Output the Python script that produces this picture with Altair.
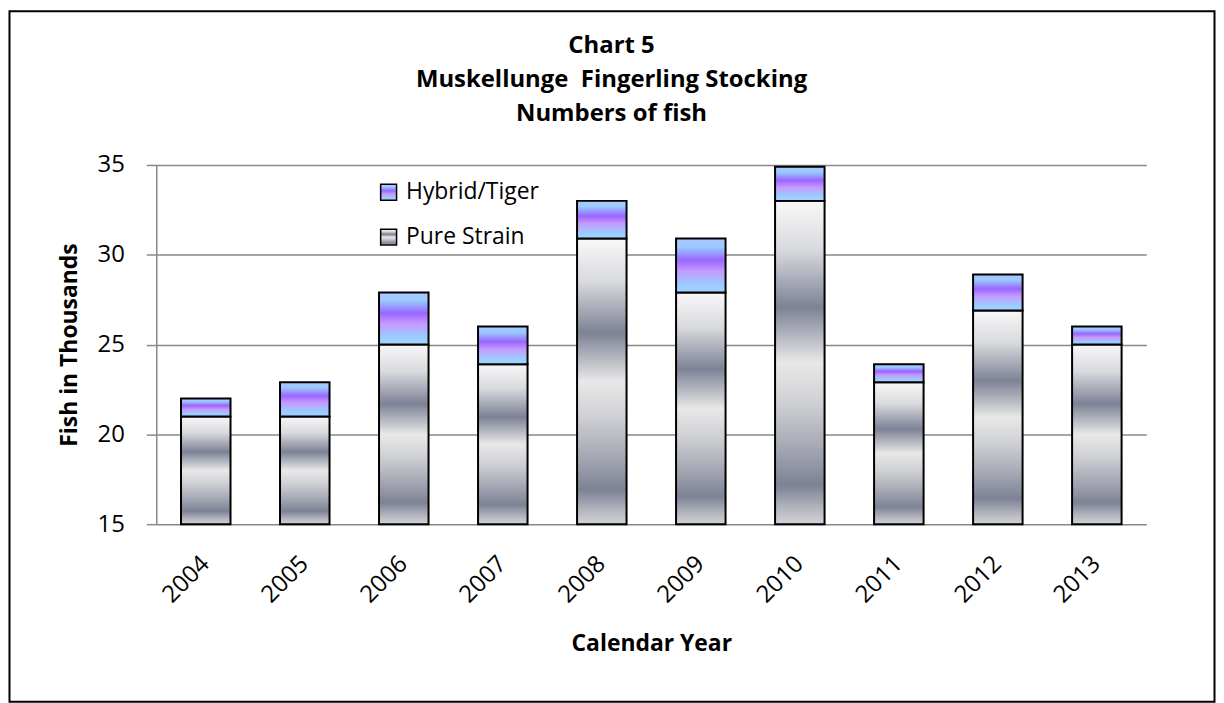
import altair as alt
import pandas as pd

# ---- data (thousands of fish) ----
years = ["2004", "2005", "2006", "2007", "2008", "2009", "2010", "2011", "2012", "2013"]
pure_strain = [21.0, 21.0, 25.0, 23.9, 30.9, 27.9, 33.0, 22.9, 26.9, 25.0]
hybrid_tiger = [1.0, 1.9, 2.9, 2.1, 2.1, 3.0, 1.9, 1.0, 2.0, 1.0]
series_names = ["Hybrid/Tiger", "Pure Strain"]
y_ticks = [15, 20, 25, 30, 35]
AXIS_MIN = 15

rows = []
for yr, p, h in zip(years, pure_strain, hybrid_tiger):
    rows.append({"year": yr, "series": "Pure Strain", "top": p, "bottom": AXIS_MIN})
    rows.append({"year": yr, "series": "Hybrid/Tiger", "top": round(p + h, 2), "bottom": p})
df = pd.DataFrame(rows)


def grad_expr(stops):
    s = ", ".join("{offset: %s, color: '%s'}" % (o, c) for o, c in stops)
    return "{gradient: 'linear', x1: 0, y1: 0, x2: 0, y2: 1, stops: [" + s + "]}"


hybrid_grad = grad_expr([
    (0, "#aec4ff"), (0.15, "#99ccff"), (0.4, "#9966ff"),
    (0.6, "#c799ff"), (0.85, "#99ccff"), (1, "#a6d2ff"),
])
pure_grad = grad_expr([
    (0, "#f8f8f8"), (0.15, "#d9dade"), (0.33, "#7d8295"), (0.5, "#e8e8e8"),
    (0.62, "#d0d1d5"), (0.76, "#a6a9b4"), (0.88, "#7d8295"), (0.95, "#b3b5be"),
    (1, "#d2d3d7"),
])

FONT = "Open Sans"

bars = alt.Chart(df).mark_bar(stroke="black", strokeWidth=2).encode(
    x=alt.X(
        "year:N",
        sort=years,
        scale=alt.Scale(paddingInner=0.5, paddingOuter=0.25),
        axis=alt.Axis(
            title="Calendar Year",
            labelAngle=-45,
            labelAlign="right",
            labelBaseline="middle",
            labelPadding=36,
            ticks=False,
            domain=False,
            titlePadding=26,
            titleFontSize=23,
        ),
    ),
    y=alt.Y(
        "top:Q",
        scale=alt.Scale(domain=[15, 35], zero=False, nice=False),
        axis=alt.Axis(
            title="Fish in Thousands",
            values=y_ticks,
            tickSize=10,
            tickColor="#888888",
            tickWidth=1.5,
            labelPadding=22,
            titlePadding=16,
            titleFontSize=23,
            domainColor="#888888",
            domainWidth=1.5,
        ),
    ),
    y2="bottom:Q",
    color=alt.Color(
        "series:N",
        scale=alt.Scale(
            domain=series_names,
            range=[alt.ExprRef(expr=hybrid_grad), alt.ExprRef(expr=pure_grad)],
        ),
        legend=alt.Legend(
            title=None,
            orient="none",
            legendX=222,
            legendY=16,
            symbolType="square",
            symbolSize=256,
            symbolStrokeColor="black",
            symbolStrokeWidth=1.5,
            labelFont=FONT,
            labelFontSize=23,
            labelColor="black",
            labelOffset=6,
            rowPadding=21,
        ),
    ),
)

border = alt.Chart(alt.Data(values=[{"k": 1}])).mark_rect(
    fillOpacity=0, stroke="black", strokeWidth=2, clip=False
).encode(
    x=alt.value(-147.5), x2=alt.value(1063.5),
    y=alt.value(-154.5), y2=alt.value(539.5),
)

chart = alt.layer(bars, border).properties(
    width=995,
    height=361,
    padding=0,
    title=alt.TitleParams(
        text=["Chart 5", "Muskellunge\u00a0 Fingerling Stocking", "Numbers of fish"],
        font=FONT,
        fontSize=24,
        fontWeight="bold",
        lineHeight=34,
        anchor="middle",
        frame="group",
        dx=-40,
        offset=-116,
        color="black",
    ),
).configure_view(stroke=None).configure_axis(
    labelFont=FONT,
    labelFontSize=24,
    labelColor="black",
    titleFont=FONT,
    titleFontSize=20,
    titleFontWeight="bold",
    titleColor="black",
    gridColor="#888888",
    gridWidth=1.5,
    domainColor="#888888",
).configure_axisX(grid=False)

chart.save("out.html", embed_options={"renderer": "svg", "actions": False})
